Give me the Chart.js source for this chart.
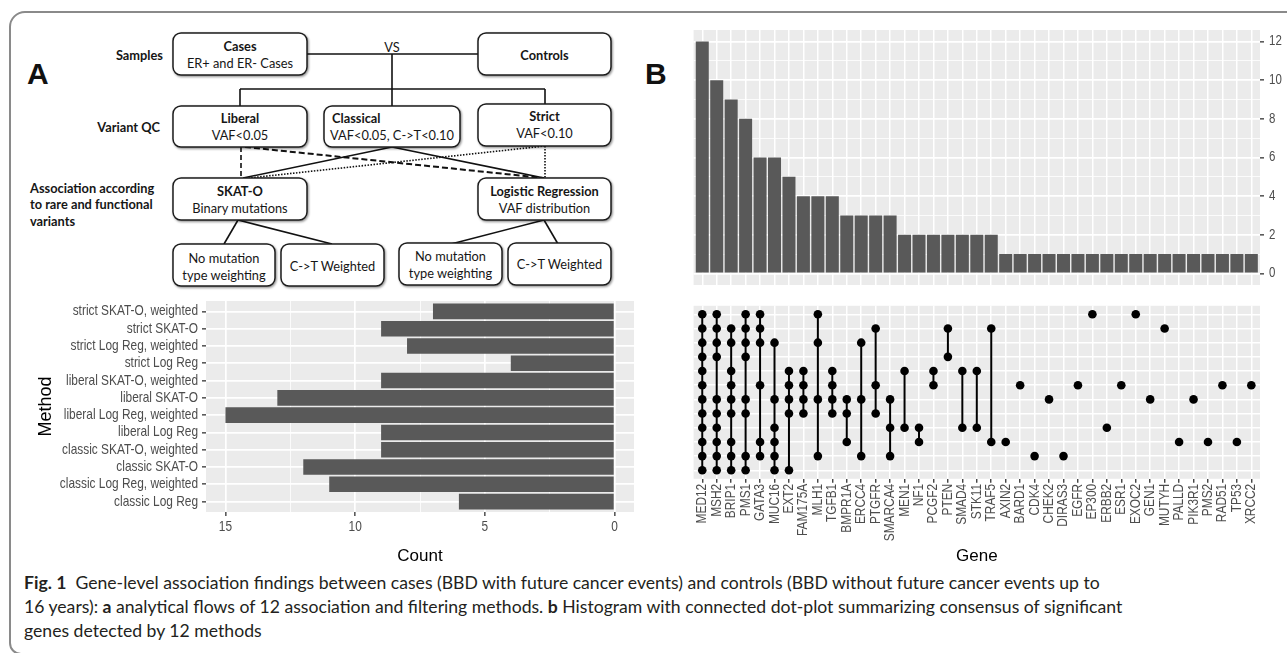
<!DOCTYPE html>
<html>
<head>
<meta charset="utf-8">
<script src="https://cdn.jsdelivr.net/npm/chart.js@4"></script>
<style>
  body { margin: 0; width: 1287px; height: 653px; overflow: hidden; background: #fff; position: relative; font-family: Lato, 'Open Sans', sans-serif; }
  .frame { position: absolute; left: 9px; top: 11px; width: 1300px; height: 640px; border: 2px solid #8a8a8a; border-radius: 16px 0 0 12px; }
  canvas { position: absolute; }
  .big { position: absolute; font: bold 30px 'Liberation Sans', Arial, sans-serif; line-height: 30px; color: #111; }
  .cap { position: absolute; left: 24px; height: 24px; line-height: 24px; color: #231f20; white-space: nowrap; font-family: Lato, sans-serif; }
  #flow text { font-family: Lato, 'Open Sans', sans-serif; font-size: 12.8px; fill: #161616; dominant-baseline: central; }
  #flow text.b { font-weight: bold; }
  #flow rect { fill: #fff; stroke: #1c1c1c; stroke-width: 1.5; }
  #flow line { stroke: #111; stroke-width: 1.6; }
</style>
</head>
<body>
<div class="frame"></div>

<svg id="flow" width="1287" height="653" style="position:absolute;left:0;top:0">
  <defs>
    <filter id="sh" x="-10%" y="-10%" width="130%" height="140%">
      <feDropShadow dx="1" dy="1.2" stdDeviation="0.8" flood-color="#000" flood-opacity="0.45"/>
    </filter>
  </defs>
  <!-- connectors -->
  <line x1="307" y1="54" x2="478" y2="54"/>
  <line x1="392" y1="54" x2="392" y2="89"/>
  <line x1="240" y1="89" x2="545" y2="89"/>
  <line x1="240" y1="89" x2="240" y2="106"/>
  <line x1="392" y1="89" x2="392" y2="106"/>
  <line x1="545" y1="89" x2="545" y2="104"/>
  <line x1="241" y1="147" x2="241" y2="178" style="stroke-dasharray:5 3"/>
  <line x1="245" y1="147" x2="544" y2="178" style="stroke-dasharray:6 3;stroke-width:2"/>
  <line x1="392" y1="147" x2="243" y2="178"/>
  <line x1="392" y1="147" x2="544" y2="178"/>
  <line x1="545" y1="146" x2="545" y2="178" style="stroke-dasharray:1.5 1.5"/>
  <line x1="545" y1="146" x2="249" y2="178" style="stroke-dasharray:1.5 1.5"/>
  <line x1="238" y1="220" x2="224" y2="244"/>
  <line x1="238" y1="220" x2="332" y2="244"/>
  <line x1="544" y1="220" x2="451" y2="244"/>
  <line x1="544" y1="220" x2="558" y2="244"/>

  <!-- boxes -->
  <g filter="url(#sh)">
    <rect x="173" y="33" width="134" height="42" rx="8"/>
    <rect x="478" y="33" width="133" height="42" rx="8"/>
    <rect x="173" y="106" width="134" height="41" rx="8"/>
    <rect x="324" y="106" width="136" height="41" rx="8"/>
    <rect x="478" y="104" width="133" height="42" rx="8"/>
    <rect x="173" y="178" width="134" height="42" rx="8"/>
    <rect x="478" y="178" width="133" height="42" rx="8"/>
    <rect x="173" y="244" width="102" height="42" rx="8"/>
    <rect x="281" y="244" width="103" height="42" rx="8"/>
    <rect x="399" y="243" width="103" height="42" rx="8"/>
    <rect x="508" y="243" width="103" height="42" rx="8"/>
  </g>

  <text x="392" y="47" text-anchor="middle">VS</text>
  <text class="b" x="163" y="55" text-anchor="end">Samples</text>
  <text class="b" x="160" y="127" text-anchor="end">Variant QC</text>
  <text class="b" x="30" y="188">Association according</text>
  <text class="b" x="30" y="204">to rare and functional</text>
  <text class="b" x="30" y="221">variants</text>

  <text class="b" x="240" y="46" text-anchor="middle">Cases</text>
  <text x="240" y="63" text-anchor="middle">ER+ and ER- Cases</text>
  <text class="b" x="544.5" y="55" text-anchor="middle">Controls</text>
  <text class="b" x="240" y="118" text-anchor="middle">Liberal</text>
  <text x="240" y="135" text-anchor="middle">VAF&lt;0.05</text>
  <text class="b" x="332" y="118">Classical</text>
  <text x="392" y="135" text-anchor="middle">VAF&lt;0.05, C-&gt;T&lt;0.10</text>
  <text class="b" x="544.5" y="116" text-anchor="middle">Strict</text>
  <text x="544.5" y="133" text-anchor="middle">VAF&lt;0.10</text>
  <text class="b" x="240" y="191" text-anchor="middle">SKAT-O</text>
  <text x="240" y="208" text-anchor="middle">Binary mutations</text>
  <text class="b" x="544.5" y="191" text-anchor="middle">Logistic Regression</text>
  <text x="544.5" y="208" text-anchor="middle">VAF distribution</text>
  <text x="224" y="258" text-anchor="middle">No mutation</text>
  <text x="224" y="275" text-anchor="middle">type weighting</text>
  <text x="332.5" y="266" text-anchor="middle">C-&gt;T Weighted</text>
  <text x="450.5" y="256" text-anchor="middle">No mutation</text>
  <text x="450.5" y="273" text-anchor="middle">type weighting</text>
  <text x="559.5" y="264" text-anchor="middle">C-&gt;T Weighted</text>
</svg>

<div class="big" style="left:27px;top:59px">A</div>
<div class="big" style="left:645px;top:59px">B</div>

<div class="cap" id="cap1" style="top:571px"><b>Fig. 1</b>&nbsp; Gene-level association findings between cases (BBD with future cancer events) and controls (BBD without future cancer events up to</div>
<div class="cap" id="cap2" style="top:595px">16 years): <b>a</b> analytical flows of 12 association and filtering methods. <b>b</b> Histogram with connected dot-plot summarizing consensus of significant</div>
<div class="cap" id="cap3" style="top:619px">genes detected by 12 methods</div>

<script>
// panel A: genes found per method
const methods = [
  'strict SKAT-O, weighted', 'strict SKAT-O', 'strict Log Reg, weighted', 'strict Log Reg',
  'liberal SKAT-O, weighted', 'liberal SKAT-O', 'liberal Log Reg, weighted', 'liberal Log Reg',
  'classic SKAT-O, weighted', 'classic SKAT-O', 'classic Log Reg, weighted', 'classic Log Reg'
];
const methodCounts = [7, 9, 8, 4, 9, 13, 15, 9, 9, 12, 11, 6];
const countTicks = [0, 5, 10, 15];

// panel B: methods per gene
const genes = [
  'MED12', 'MSH2', 'BRIP1', 'PMS1', 'GATA3', 'MUC16', 'EXT2', 'FAM175A', 'MLH1', 'TGFB1',
  'BMPR1A', 'ERCC4', 'PTGFR', 'SMARCA4', 'MEN1', 'NF1', 'PCGF2', 'PTEN', 'SMAD4', 'STK11',
  'TRAF5', 'AXIN2', 'BARD1', 'CDK4', 'CHEK2', 'DIRAS3', 'EGFR', 'EP300', 'ERBB2', 'ESR1',
  'EXOC2', 'GEN1', 'MUTYH', 'PALLD', 'PIK3R1', 'PMS2', 'RAD51', 'TP53', 'XRCC2'
];
const geneCounts = [12, 10, 9, 8, 6, 6, 5, 4, 4, 4, 3, 3, 3, 3, 2, 2, 2, 2, 2, 2,
  2, 1, 1, 1, 1, 1, 1, 1, 1, 1, 1, 1, 1, 1, 1, 1, 1, 1, 1];
const freqTicks = [0, 2, 4, 6, 8, 10, 12];

// dot plot rows, same order as methods (top to bottom)
const methodGenes = [
  ['MED12', 'MSH2', 'PMS1', 'GATA3', 'MLH1', 'EP300', 'EXOC2'],
  ['MED12', 'MSH2', 'BRIP1', 'PMS1', 'GATA3', 'PTGFR', 'PTEN', 'TRAF5', 'MUTYH'],
  ['MED12', 'MSH2', 'BRIP1', 'PMS1', 'GATA3', 'MUC16', 'MLH1', 'ERCC4'],
  ['MED12', 'MSH2', 'PMS1', 'PTEN'],
  ['MED12', 'BRIP1', 'EXT2', 'FAM175A', 'TGFB1', 'MEN1', 'PCGF2', 'SMAD4', 'STK11'],
  ['MED12', 'BRIP1', 'GATA3', 'EXT2', 'FAM175A', 'TGFB1', 'PTGFR', 'PCGF2', 'BARD1', 'EGFR', 'ESR1', 'RAD51', 'XRCC2'],
  ['MED12', 'MSH2', 'BRIP1', 'PMS1', 'MUC16', 'EXT2', 'FAM175A', 'MLH1', 'TGFB1', 'BMPR1A', 'ERCC4', 'SMARCA4', 'CHEK2', 'GEN1', 'PIK3R1'],
  ['MED12', 'MSH2', 'BRIP1', 'PMS1', 'EXT2', 'FAM175A', 'TGFB1', 'BMPR1A', 'PTGFR'],
  ['MED12', 'MSH2', 'MUC16', 'SMARCA4', 'MEN1', 'NF1', 'SMAD4', 'STK11', 'ERBB2'],
  ['MED12', 'MSH2', 'BRIP1', 'GATA3', 'MUC16', 'BMPR1A', 'NF1', 'TRAF5', 'AXIN2', 'PALLD', 'PMS2', 'TP53'],
  ['MED12', 'MSH2', 'BRIP1', 'PMS1', 'GATA3', 'MUC16', 'MLH1', 'ERCC4', 'SMARCA4', 'CDK4', 'DIRAS3'],
  ['MED12', 'MSH2', 'BRIP1', 'PMS1', 'MUC16', 'EXT2']
];

const SANS = "'Liberation Sans', Arial, sans-serif";
const SQUEEZE = 0.82;   // no narrow face installed, so squeeze the tick text instead
const PANEL = '#ebebeb', GRID = '#ffffff', TICK = '#333333', BAR = '#595959', LABEL = '#4d4d4d';
Chart.defaults.font.family = SANS;
Chart.defaults.color = LABEL;

const panelBg = {
  id: 'panelBg',
  beforeDraw(chart) {
    const a = chart.chartArea, ctx = chart.ctx;
    ctx.save();
    ctx.fillStyle = PANEL;
    ctx.fillRect(a.left, a.top, a.right - a.left, a.bottom - a.top);
    ctx.restore();
  }
};

// tick labels drawn at the scale's own tick pixels, in a condensed width
const narrowLabels = {
  id: 'narrowLabels',
  afterDraw(chart, args, opts) {
    const ctx = chart.ctx;
    (opts.axes || []).forEach(a => {
      const scale = chart.scales[a.axis];
      ctx.save();
      ctx.font = a.size + 'px ' + SANS;
      ctx.fillStyle = LABEL;
      scale.ticks.forEach(t => {
        const text = a.text(t.value);
        if (!text) return;
        const w = ctx.measureText(text).width * SQUEEZE;
        const p = scale.getPixelForValue(t.value);
        if (a.rotate) {
          ctx.save();
          ctx.translate(p, scale.top + a.gap);
          ctx.rotate(-Math.PI / 2);
          ctx.textAlign = 'right'; ctx.textBaseline = 'middle';
          ctx.fillText(text, 0, 0, w);
          ctx.restore();
        } else if (scale.isHorizontal()) {
          ctx.textAlign = 'center'; ctx.textBaseline = 'middle';
          ctx.fillText(text, p, scale.top + a.gap, w);
        } else if (scale.position === 'right') {
          ctx.textAlign = 'left'; ctx.textBaseline = 'middle';
          ctx.fillText(text, scale.left + a.gap, p, w);
        } else {
          ctx.textAlign = 'right'; ctx.textBaseline = 'middle';
          ctx.fillText(text, scale.right - a.gap, p, w);
        }
      });
      ctx.restore();
    });
  }
};

function makeCanvas(left, top, w, h) {
  const c = document.createElement('canvas');
  c.width = w; c.height = h;
  c.style.left = left + 'px'; c.style.top = top + 'px';
  c.style.width = w + 'px'; c.style.height = h + 'px';
  document.body.appendChild(c);
  return c;
}

// major ticks plus ggplot-style minor ones half way between
function withMinor(major) {
  const out = [];
  major.forEach((v, i) => {
    out.push(v);
    if (i < major.length - 1) out.push((v + major[i + 1]) / 2);
  });
  return out;
}
const isMajor = (list, v) => list.includes(v);
const seq = n => Array.from({length: n}, (_, i) => i + 1);

const baseOpts = {
  responsive: false,
  animation: false
};
const quiet = { legend: { display: false }, tooltip: { enabled: false } };

// ---------- panel A bar chart ----------
new Chart(makeCanvas(0, 290, 645, 290), {
  type: 'bar',
  data: {
    datasets: [{
      data: methodCounts.map((v, i) => ({ x: v, y: i + 1 })),
      backgroundColor: BAR,
      borderWidth: 0,
      categoryPercentage: 0.9,
      barPercentage: 1
    }]
  },
  options: {
    ...baseOpts,
    indexAxis: 'y',
    layout: { padding: { top: 11, right: 11, left: 0, bottom: 0 } },
    plugins: {
      ...quiet,
      narrowLabels: { axes: [
        { axis: 'y', size: 14.5, gap: 8, text: v => methods[v - 1] },
        { axis: 'x', size: 14.5, gap: 15, text: v => isMajor(countTicks, v) ? String(v) : '' }
      ] }
    },
    scales: {
      x: {
        type: 'linear', reverse: true, min: -0.75, max: 15.75, offset: false,
        afterBuildTicks: s => { s.ticks = withMinor(countTicks).map(v => ({ value: v })); },
        afterFit: s => { s.height = 68; },
        ticks: { display: false },
        grid: {
          offset: false, color: GRID,
          lineWidth: c => isMajor(countTicks, c.tick.value) ? 1.7 : 0.8,
          tickLength: 4, tickWidth: 1.3,
          tickColor: c => isMajor(countTicks, c.tick.value) ? TICK : 'rgba(0,0,0,0)'
        },
        border: { display: false },
        title: { display: true, text: 'Count', color: '#000', font: { size: 17 }, padding: { top: 0, bottom: 13.5 } }
      },
      y: {
        type: 'linear', reverse: true, min: 0.4, max: 12.6, offset: false,
        afterBuildTicks: s => { s.ticks = seq(methods.length).map(v => ({ value: v })); },
        afterFit: s => { s.width = 206; },
        ticks: { display: false },
        grid: { offset: false, color: GRID, lineWidth: 1.7, tickLength: 4, tickWidth: 1.3, tickColor: TICK },
        border: { display: false },
        title: { display: true, text: 'Method', color: '#000', font: { size: 18 }, padding: { top: 35, bottom: 0 } }
      }
    }
  },
  plugins: [panelBg, narrowLabels]
});

// ---------- panel B histogram ----------
new Chart(makeCanvas(680, 20, 607, 280), {
  type: 'bar',
  data: {
    datasets: [{
      data: geneCounts.map((v, i) => ({ x: i + 1, y: v })),
      backgroundColor: BAR,
      borderWidth: 0,
      categoryPercentage: 0.9,
      barPercentage: 1
    }]
  },
  options: {
    ...baseOpts,
    layout: { padding: { top: 10, right: 0, left: 13.6, bottom: 15 } },
    plugins: {
      ...quiet,
      narrowLabels: { axes: [
        { axis: 'y', size: 14, gap: 9, text: v => isMajor(freqTicks, v) ? String(v) : '' }
      ] }
    },
    scales: {
      x: {
        type: 'linear', min: 0.4, max: 39.6, offset: false,
        afterBuildTicks: s => { s.ticks = seq(genes.length).map(v => ({ value: v })); },
        afterFit: s => { s.height = 0; },
        ticks: { display: false },
        grid: { offset: false, color: GRID, lineWidth: 1.5, drawTicks: false },
        border: { display: false }
      },
      y: {
        type: 'linear', position: 'right', min: -0.6, max: 12.6,
        afterBuildTicks: s => { s.ticks = withMinor(freqTicks).map(v => ({ value: v })); },
        afterFit: s => { s.width = 27; },
        ticks: { display: false },
        grid: {
          color: GRID,
          lineWidth: c => isMajor(freqTicks, c.tick.value) ? 1.7 : 0.8,
          tickLength: 4, tickWidth: 1.3,
          tickColor: c => isMajor(freqTicks, c.tick.value) ? TICK : 'rgba(0,0,0,0)'
        },
        border: { display: false }
      }
    }
  },
  plugins: [panelBg, narrowLabels]
});

// ---------- panel B connected dot plot ----------
const dots = [];
methodGenes.forEach((row, r) => row.forEach(g => dots.push({ x: genes.indexOf(g) + 1, y: r + 1 })));
const links = genes.map((g, j) => {
  const rows = dots.filter(d => d.x === j + 1).map(d => d.y);
  return rows.length > 1 ? [{ x: j + 1, y: Math.min(...rows) }, { x: j + 1, y: Math.max(...rows) }] : null;
}).filter(Boolean);

new Chart(makeCanvas(680, 300, 607, 280), {
  type: 'scatter',
  data: {
    datasets: [
      { data: dots, pointRadius: 4.3, backgroundColor: '#000', borderWidth: 0 },
      ...links.map(seg => ({ data: seg, showLine: true, borderColor: '#000', borderWidth: 2, pointRadius: 0 }))
    ]
  },
  options: {
    ...baseOpts,
    layout: { padding: { top: 5.8, right: 27, left: 13.6, bottom: 0 } },
    plugins: {
      ...quiet,
      narrowLabels: { axes: [
        { axis: 'x', size: 14.5, gap: 5, rotate: true, text: v => genes[v - 1] }
      ] }
    },
    scales: {
      x: {
        type: 'linear', min: 0.4, max: 39.6,
        afterBuildTicks: s => { s.ticks = seq(genes.length).map(v => ({ value: v })); },
        afterFit: s => { s.height = 101.2; },
        ticks: { display: false },
        grid: { color: GRID, lineWidth: 1.5, tickLength: 4, tickWidth: 1.3, tickColor: TICK },
        border: { display: false },
        title: { display: true, text: 'Gene', color: '#000', font: { size: 17 }, padding: { top: 0, bottom: 13.5 } }
      },
      y: {
        type: 'linear', reverse: true, min: 0.4, max: 12.6,
        afterBuildTicks: s => { s.ticks = seq(methods.length).map(v => ({ value: v })); },
        afterFit: s => { s.width = 0; },
        ticks: { display: false },
        grid: { color: GRID, lineWidth: 1.5, drawTicks: false },
        border: { display: false }
      }
    }
  },
  plugins: [panelBg, narrowLabels]
});

// fit caption size to the width of the first printed line
(function () {
  const caps = ['cap1', 'cap2', 'cap3'].map(id => document.getElementById(id));
  caps.forEach(c => c.style.fontSize = '16px');
  const w = caps[0].getBoundingClientRect().width;
  const size = 16 * 1076 / w;
  caps.forEach(c => c.style.fontSize = size.toFixed(2) + 'px');
})();
</script>
</body>
</html>
